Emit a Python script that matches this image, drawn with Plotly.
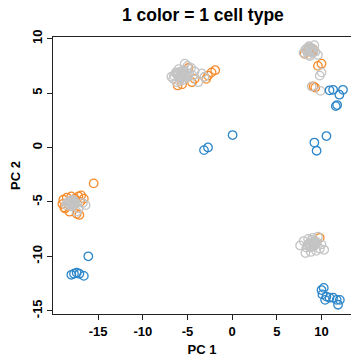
import plotly.graph_objects as go

# ---- data (PC1, PC2) ----
gray_pc1 = [-18.4, -18.1, -17.9, -17.7, -18.2, -17.8, -17.5, -16.7, -16.4, -17.4, -18.6, -17.2, -18.0,
            -18.3, -18.0, -17.7, -17.9, -18.1, -17.6, -18.5, -17.8,
            -6.5, -6.3, -6.0, -5.8, -5.6, -5.4, -5.2, -5.0, -5.5, -6.2, -4.8, -4.6, -4.4, -6.6, -5.9, -4.2,
            -3.4, -3.8, -3.1, -5.3, -6.8,
            -6.1, -5.9, -5.7, -5.5, -5.3, -5.1, -5.8, -5.6, -6.0, -5.4, -5.2, -4.9, -6.3, -5.7,
            8.2, 8.6, 9.0, 9.3, 9.6, 8.0, 8.5, 8.8, 9.2, 8.4, 10.0, 9.8, 9.9, 8.9, 8.7,
            8.4, 8.7, 9.0, 8.6, 8.9, 9.1,
            7.6, 8.0, 8.3, 8.6, 8.9, 9.2, 9.5, 9.8, 10.3, 8.8, 9.4, 8.2, 9.0, 9.6, 10.0, 8.5,
            8.6, 8.9, 9.1, 9.3, 8.4, 8.7, 9.2, 9.0, 8.8, 9.4]
gray_pc2 = [-5.1, -5.2, -5.0, -5.3, -4.9, -4.8, -5.1, -5.1, -5.3, -5.9, -5.3, -5.6, -5.4,
            -5.0, -5.2, -5.1, -4.9, -5.3, -5.0, -5.1, -5.2,
            6.6, 6.9, 7.2, 6.4, 6.8, 7.0, 6.5, 7.5, 6.2, 6.0, 6.8, 7.3, 6.6, 6.3, 6.1, 7.0,
            6.8, 6.0, 6.5, 7.7, 6.5,
            6.7, 6.5, 6.9, 6.6, 6.8, 6.4, 6.3, 6.5, 6.9, 7.1, 6.7, 6.6, 6.8, 7.0,
            9.0, 9.3, 9.1, 8.8, 8.5, 8.7, 8.5, 8.9, 9.4, 9.1, 6.9, 6.6, 5.2, 5.6, 8.4,
            8.8, 9.0, 8.7, 9.2, 9.0, 8.8,
            -9.0, -8.6, -9.2, -8.8, -8.5, -9.0, -8.7, -9.3, -9.4, -9.6, -9.5, -9.7, -8.3, -8.2, -8.9, -8.4,
            -8.9, -8.8, -9.1, -8.9, -9.0, -9.2, -8.6, -8.7, -9.1, -8.8]

orange_pc1 = [-19.0, -18.9, -18.7, -18.5, -18.3, -18.0, -17.6, -17.2, -16.9, -16.6, -17.0, -18.8, -17.4,
              -17.1, -15.5, -18.2,
              -4.9, -4.5, -5.6, -6.1, -2.7, -2.3, -1.9, -4.2, -2.9,
              8.1, 8.7, 8.9, 9.1, 8.5, 9.6, 10.0, 9.1, 9.3,
              9.8]
orange_pc2 = [-5.2, -4.8, -5.6, -4.6, -5.0, -4.5, -4.7, -4.5, -4.4, -4.7, -5.0, -5.5, -6.1,
              -6.2, -3.3, -5.9,
              7.3, 6.0, 5.8, 5.7, 6.6, 6.9, 7.1, 6.3, 6.3,
              8.6, 9.1, 8.8, 9.0, 8.9, 7.5, 7.7, 5.6, 5.5,
              -8.3]

blue_pc1 = [-16.1, -18.0, -17.7, -17.4, -17.1, -16.6,
            -3.15, -2.7, 0.05,
            10.9, 11.3, 12.4, 12.0, 11.75, 11.6, 10.55, 9.2, 9.45,
            10.0, 10.25, 10.1, 10.55, 10.9, 11.3, 11.7, 12.05, 11.85, 10.4]
blue_pc2 = [-10.0, -11.7, -11.6, -11.5, -11.6, -11.8,
            -0.24, 0.0, 1.14,
            5.25, 5.3, 5.3, 4.85, 3.9, 3.8, 1.05, 0.45, -0.3,
            -13.1, -12.9, -13.5, -13.7, -13.8, -13.8, -14.0, -14.0, -14.45, -14.0]

x_ticks = [-15, -10, -5, 0, 5, 10]
y_ticks = [-15, -10, -5, 0, 5, 10]

FONT = "Liberation Sans, Arial, Helvetica, sans-serif"

fig = go.Figure()
for xs, ys, col in [(orange_pc1, orange_pc2, "#F68B2C"),
                    (gray_pc1, gray_pc2, "#C4C4C4"),
                    (blue_pc1, blue_pc2, "#2C86C9")]:
    fig.add_trace(go.Scatter(x=xs, y=ys, mode="markers",
                             marker=dict(symbol="circle-open", size=8.5, color=col,
                                         line=dict(width=1.3, color=col)),
                             showlegend=False, hoverinfo="skip"))

axis_common = dict(showgrid=False, zeroline=False, showline=True, mirror=True,
                   linecolor="#222222", linewidth=1, ticks="outside", ticklen=5,
                   tickcolor="#222222", tickwidth=1, automargin=False,
                   tickfont=dict(family=FONT, size=13, color="black"))

fig.update_layout(
    width=351, height=357,
    margin=dict(l=53, r=0, t=37, b=43, autoexpand=False),
    paper_bgcolor="white", plot_bgcolor="white",
    title=dict(text="<b>1 color = 1 cell type</b>", x=0.578, xanchor="center",
               y=1 - 15 / 357, yanchor="middle",
               font=dict(family=FONT, size=17.5, color="black")),
    xaxis=dict(range=[-20.05, 13.3], tickvals=x_ticks,
               ticktext=[f"<b>{v}</b>" for v in x_ticks],
               title=dict(text="<b>PC 1</b>", standoff=8,
                          font=dict(family=FONT, size=13, color="black")),
               **axis_common),
    yaxis=dict(range=[-15.3, 10.15], tickvals=y_ticks,
               ticktext=[f"<b>{v}</b>" for v in y_ticks], tickangle=-90,
               title=dict(text="<b>PC 2</b>", standoff=6,
                          font=dict(family=FONT, size=13, color="black")),
               **axis_common),
)
fig.write_html("out.html", config={"displayModeBar": False},
               post_script="document.body.style.margin='0';document.body.style.overflow='hidden';")
